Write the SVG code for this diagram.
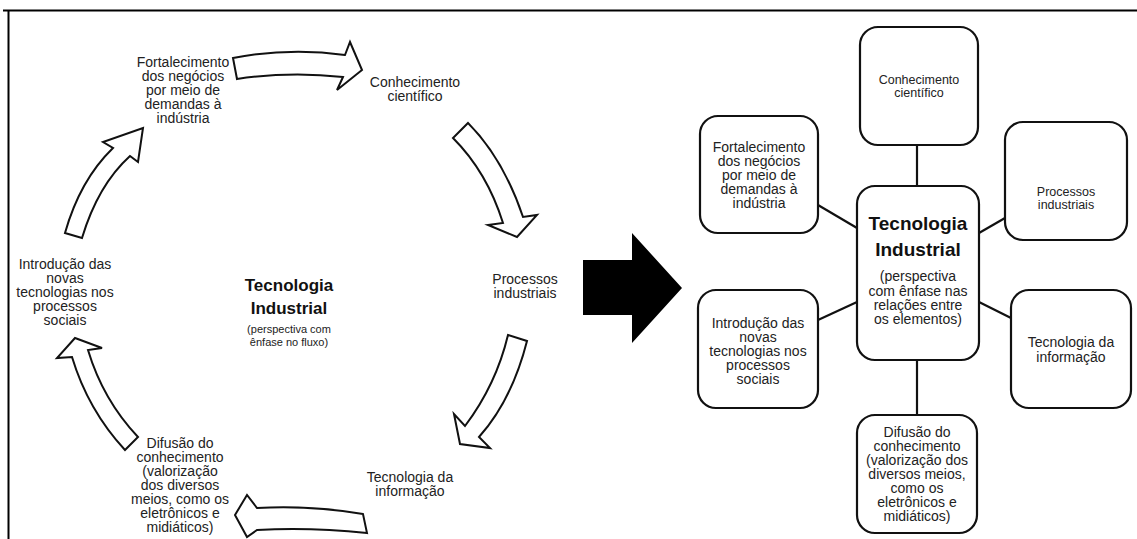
<svg xmlns="http://www.w3.org/2000/svg" width="1137" height="539" viewBox="0 0 1137 539">
<style>
.t{font-family:"Liberation Sans",Arial,sans-serif;font-size:14px;fill:#222;text-anchor:middle}
.s{font-size:12.5px}
.xs{font-size:11px}
.b{font-family:"Liberation Sans",Arial,sans-serif;font-weight:bold;fill:#111;text-anchor:middle}
.arr{fill:#fff;stroke:#111;stroke-width:2;stroke-linejoin:miter}
.box{fill:#fff;stroke:#111;stroke-width:2.2}
.ln{stroke:#111;stroke-width:2.2;fill:none}
</style>
<rect width="1137" height="539" fill="#fff"/>
<g id="frame">
<line x1="3" y1="10.5" x2="1137" y2="10.5" stroke="#000" stroke-width="2"/>
<line x1="8.5" y1="10" x2="8.5" y2="539" stroke="#000" stroke-width="2"/>
</g>
<g id="flow-arrows">
<path class="arr" d="M233,58 Q290,47 345,55 L350,42 L362,70 L337,90 L343,77 Q290,71 237,79 Z"/>
<path class="arr" d="M468,123 Q503,158 523,217 L537,215 L517,237 L488,225 L503,223 Q487,172 453,138 Z"/>
<path class="arr" d="M508,335 L527,341 Q512,400 479,437 L490,448 L460,444 L454,414 L465,426 Q496,385 508,335 Z"/>
<path class="arr" d="M363,514 Q310,505 257,508 L247,495 L235,515 L247,537 L257,530 Q310,527 367,533 Z"/>
<path class="arr" d="M125,450 Q88,410 72,357 L57,358 L75,338 L102,348 L88,350 Q103,400 138,437 Z"/>
<path class="arr" d="M65,233 Q80,180 113,148 L103,142 L143,128 L138,162 L130,156 Q98,185 82,238 Z"/>
</g>
<g id="left-fortalecimento"><text class="t"><tspan x="183" y="67">Fortalecimento</tspan><tspan x="183" y="81">dos negócios</tspan><tspan x="183" y="95">por meio de</tspan><tspan x="183" y="109">demandas à</tspan><tspan x="183" y="123">indústria</tspan></text></g>
<g id="left-conhecimento"><text class="t"><tspan x="415" y="87">Conhecimento</tspan><tspan x="415" y="101">científico</tspan></text></g>
<g id="left-processos"><text class="t"><tspan x="525" y="284">Processos</tspan><tspan x="525" y="298">industriais</tspan></text></g>
<g id="left-tecnologia-info"><text class="t"><tspan x="410" y="482">Tecnologia da</tspan><tspan x="410" y="496">informação</tspan></text></g>
<g id="left-difusao"><text class="t"><tspan x="180" y="448">Difusão do</tspan><tspan x="180" y="462">conhecimento</tspan><tspan x="180" y="476">(valorização</tspan><tspan x="180" y="490">dos diversos</tspan><tspan x="180" y="504">meios, como os</tspan><tspan x="180" y="518">eletrônicos e</tspan><tspan x="180" y="532">midiáticos)</tspan></text></g>
<g id="left-introducao"><text class="t"><tspan x="65" y="269">Introdução das</tspan><tspan x="65" y="283">novas</tspan><tspan x="65" y="297">tecnologias nos</tspan><tspan x="65" y="311">processos</tspan><tspan x="65" y="325">sociais</tspan></text></g>
<g id="left-center"><text class="b" font-size="17"><tspan x="289" y="291">Tecnologia</tspan><tspan x="289" y="314">Industrial</tspan></text><text class="t xs"><tspan x="289" y="333">(perspectiva com</tspan><tspan x="289" y="346">ênfase no fluxo)</tspan></text></g>
<g id="big-arrow"><path d="M583,260 L632,260 L632,233 L682,288 L632,343 L632,315 L583,315 Z" fill="#000"/></g>
<g id="connectors">
<line class="ln" x1="917" y1="145" x2="917" y2="186"/>
<line class="ln" x1="818" y1="205" x2="857" y2="228"/>
<line class="ln" x1="1005" y1="218" x2="979" y2="233"/>
<line class="ln" x1="818" y1="320" x2="857" y2="302"/>
<line class="ln" x1="979" y1="302" x2="1011" y2="318"/>
<line class="ln" x1="917" y1="360" x2="917" y2="415"/>
</g>
<g id="n-conhecimento"><rect class="box" x="860" y="27" width="118" height="118" rx="18"/><text class="t s"><tspan x="919" y="84">Conhecimento</tspan><tspan x="919" y="97">científico</tspan></text></g>
<g id="n-fortalecimento"><rect class="box" x="700" y="116" width="118" height="117" rx="18"/><text class="t"><tspan x="759" y="152">Fortalecimento</tspan><tspan x="759" y="166">dos negócios</tspan><tspan x="759" y="180">por meio de</tspan><tspan x="759" y="194">demandas à</tspan><tspan x="759" y="208">indústria</tspan></text></g>
<g id="n-processos"><rect class="box" x="1005" y="122" width="122" height="118" rx="18"/><text class="t s"><tspan x="1066" y="196">Processos</tspan><tspan x="1066" y="209">industriais</tspan></text></g>
<g id="n-center"><rect class="box" x="857" y="186" width="122" height="174" rx="18"/><text class="b" font-size="19"><tspan x="918" y="230">Tecnologia</tspan><tspan x="918" y="256">Industrial</tspan></text><text class="t"><tspan x="918" y="281">(perspectiva</tspan><tspan x="918" y="296">com ênfase nas</tspan><tspan x="918" y="310">relações entre</tspan><tspan x="918" y="324">os elementos)</tspan></text></g>
<g id="n-introducao"><rect class="box" x="698" y="290" width="120" height="118" rx="18"/><text class="t"><tspan x="758" y="328">Introdução das</tspan><tspan x="758" y="342">novas</tspan><tspan x="758" y="356">tecnologias nos</tspan><tspan x="758" y="370">processos</tspan><tspan x="758" y="384">sociais</tspan></text></g>
<g id="n-tecnologia-info"><rect class="box" x="1011" y="290" width="120" height="118" rx="18"/><text class="t"><tspan x="1071" y="347">Tecnologia da</tspan><tspan x="1071" y="362">informação</tspan></text></g>
<g id="n-difusao"><rect class="box" x="857" y="415" width="120" height="118" rx="18"/><text class="t"><tspan x="917" y="437">Difusão do</tspan><tspan x="917" y="451">conhecimento</tspan><tspan x="917" y="465">(valorização dos</tspan><tspan x="917" y="479">diversos meios,</tspan><tspan x="917" y="493">como os</tspan><tspan x="917" y="507">eletrônicos e</tspan><tspan x="917" y="521">midiáticos)</tspan></text></g>
</svg>
